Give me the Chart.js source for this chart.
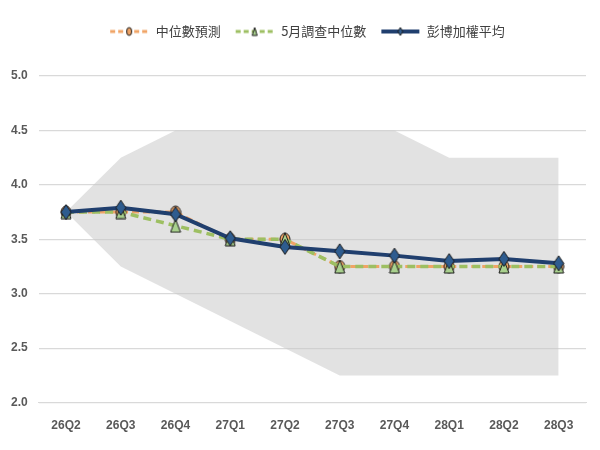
<!DOCTYPE html>
<html>
<head>
<meta charset="utf-8">
<script src="https://cdn.jsdelivr.net/npm/chart.js@4"></script>
<style>
  body { margin: 0; background: #fff; }
</style>
</head>
<body>
<canvas id="rateChart" width="600" height="450"></canvas>
<script>
// quarters and series
const quarters = ["26Q2", "26Q3", "26Q4", "27Q1", "27Q2", "27Q3", "27Q4", "28Q1", "28Q2", "28Q3"];
const medianForecast = [3.75, 3.75, 3.75, 3.5, 3.5, 3.25, 3.25, 3.25, 3.25, 3.25];
const maySurveyMedian = [3.75, 3.75, 3.625, 3.5, 3.5, 3.25, 3.25, 3.25, 3.25, 3.25];
const bloombergWeighted = [3.75, 3.79, 3.73, 3.51, 3.43, 3.39, 3.35, 3.30, 3.32, 3.28];
const rangeHigh = [3.75, 4.25, 4.5, 4.5, 4.5, 4.5, 4.5, 4.25, 4.25, 4.25];
const rangeLow = [3.75, 3.25, 3.0, 2.75, 2.5, 2.25, 2.25, 2.25, 2.25, 2.25];
const yTicks = [2.0, 2.5, 3.0, 3.5, 4.0, 4.5, 5.0];

const seriesNames = ["中位數預測", "5月調查中位數", "彭博加權平均"];

const ORANGE = "#F0A466";
const GREEN = "#9DBF62";
const NAVY = "#203F6E";

function shapePath(g, shape, cx, cy, w, h) {
  g.beginPath();
  if (shape === "circle") {
    g.ellipse(cx, cy, w / 2, h / 2, 0, 0, Math.PI * 2);
  } else if (shape === "triangle") {
    g.moveTo(cx, cy - h / 2);
    g.lineTo(cx + w / 2, cy + h / 2);
    g.lineTo(cx - w / 2, cy + h / 2);
    g.closePath();
  } else {
    g.moveTo(cx, cy - h / 2);
    g.lineTo(cx + w / 2, cy);
    g.lineTo(cx, cy + h / 2);
    g.lineTo(cx - w / 2, cy);
    g.closePath();
  }
}

function marker(shape, fill, w, h) {
  const c = document.createElement("canvas");
  c.width = w + 2;
  c.height = h + 2;
  const g = c.getContext("2d");
  shapePath(g, shape, c.width / 2, c.height / 2, w, h);
  g.fillStyle = fill;
  g.fill();
  g.lineWidth = 1;
  g.strokeStyle = "#1b1b1b";
  g.stroke();
  return c;
}

function legendIcon(shape, fill, lineColor, dash, lw) {
  const c = document.createElement("canvas");
  c.width = 40;
  c.height = 12;
  const g = c.getContext("2d");
  g.strokeStyle = lineColor;
  g.lineWidth = lw;
  g.setLineDash(dash);
  g.beginPath();
  g.moveTo(1, 6);
  g.lineTo(39, 6);
  g.stroke();
  g.setLineDash([]);
  shapePath(g, shape, 20, 6, 5, 8);
  g.fillStyle = fill;
  g.fill();
  g.lineWidth = 1;
  g.strokeStyle = "#1b1b1b";
  g.stroke();
  return c;
}

const icons = [
  legendIcon("circle", ORANGE, ORANGE, [5, 3], 3),
  legendIcon("triangle", "#A9D18E", GREEN, [5, 3], 3),
  legendIcon("diamond", "#2E5C8F", NAVY, [], 4)
];

// extra room between legend and plot, legend nudged right
const legendGap = {
  id: "legendGap",
  beforeInit(chart) {
    const fit = chart.legend.fit;
    chart.legend.fit = function () {
      fit.bind(chart.legend)();
      this.height += 28;
    };
  },
  afterLayout(chart) {
    chart.legend.left += 14;
    chart.legend.right += 14;
  }
};

const ctx = document.getElementById("rateChart");

new Chart(ctx, {
  type: "line",
  plugins: [legendGap],
  data: {
    labels: quarters,
    datasets: [
      {
        label: seriesNames[0],
        data: medianForecast,
        borderColor: ORANGE,
        borderWidth: 3,
        borderDash: [7, 4],
        pointStyle: marker("circle", ORANGE, 10, 12),
        order: 2
      },
      {
        label: seriesNames[1],
        data: maySurveyMedian,
        borderColor: GREEN,
        borderWidth: 3.5,
        borderDash: [8, 5],
        pointStyle: marker("triangle", "#A9D18E", 10, 13),
        order: 1
      },
      {
        label: seriesNames[2],
        data: bloombergWeighted,
        borderColor: NAVY,
        borderWidth: 4,
        pointStyle: marker("diamond", "#2E5C8F", 10, 15),
        order: 0
      },
      {
        label: "high",
        data: rangeHigh,
        borderWidth: 0,
        pointRadius: 0,
        fill: "+1",
        backgroundColor: "rgba(200,200,200,0.52)",
        order: 3
      },
      {
        label: "low",
        data: rangeLow,
        borderWidth: 0,
        pointRadius: 0,
        fill: false,
        order: 4
      }
    ]
  },
  options: {
    responsive: false,
    animation: false,
    layout: { padding: { left: 0, right: 14, top: 11, bottom: 9 } },
    plugins: {
      tooltip: { enabled: false },
      legend: {
        position: "top",
        labels: {
          usePointStyle: true,
          pointStyleWidth: 40,
          padding: 14,
          color: "#404040",
          font: { family: "'Noto Sans CJK TC', sans-serif", size: 13 },
          filter: (item) => item.datasetIndex < 3,
          sort: (a, b) => a.datasetIndex - b.datasetIndex,
          generateLabels: (chart) =>
            chart.data.datasets.map((ds, i) => ({
              text: ds.label,
              datasetIndex: i,
              pointStyle: icons[i],
              fontColor: "#404040",
              lineWidth: 0,
              hidden: false
            }))
        }
      }
    },
    scales: {
      x: {
        offset: true,
        grid: { display: false },
        border: { display: true, color: "#D9D9D9" },
        ticks: {
          color: "#595959",
          padding: 8,
          font: { family: "'Liberation Sans Narrow', 'Liberation Sans', sans-serif", size: 12, weight: "bold" }
        }
      },
      y: {
        min: yTicks[0],
        max: yTicks[yTicks.length - 1],
        afterBuildTicks: (axis) => { axis.ticks = yTicks.map((v) => ({ value: v })); },
        grid: { color: "#D9D9D9", lineWidth: 1.2, drawTicks: false },
        border: { display: false },
        ticks: {
          color: "#595959",
          padding: 11,
          callback: (v) => Number(v).toFixed(1),
          font: { family: "'Liberation Sans Narrow', 'Liberation Sans', sans-serif", size: 12, weight: "bold" }
        }
      }
    }
  }
});
</script>
</body>
</html>
